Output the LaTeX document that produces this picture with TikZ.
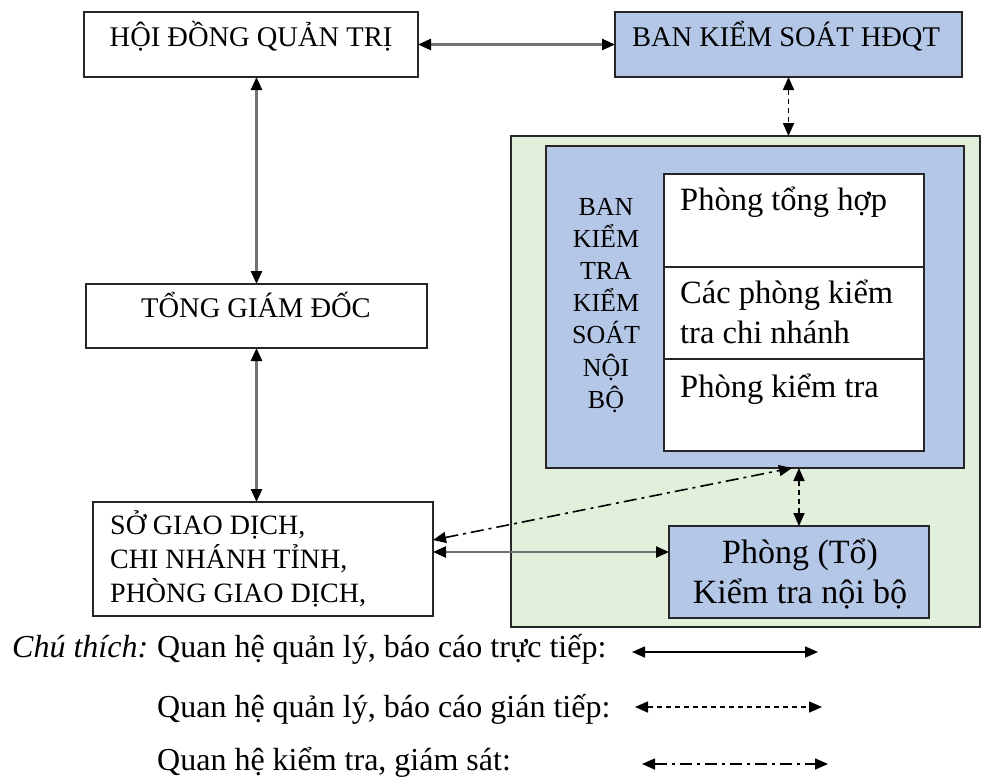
\documentclass[tikz,border=0pt]{standalone}
\usepackage{fontspec}
\setmainfont{Liberation Serif}
\usetikzlibrary{arrows.meta, calc, positioning}
\definecolor{bkblue}{HTML}{B4C7E7}
\definecolor{bkgreen}{HTML}{E2EFDA}

\begin{document}
\begin{tikzpicture}[x=1pt, y=-1pt,
  box/.style={draw=black!85, line width=1.4pt, anchor=north west, inner sep=0pt, outer sep=0pt},
  txt/.style={anchor=base, inner sep=0pt},
  ltxt/.style={anchor=base west, inner sep=0pt},
  tips/.style={{Triangle[length=13pt,width=11pt,color=black]}-{Triangle[length=13pt,width=11pt,color=black]}},
  conn/.style={tips, draw=black!55, line width=2.4pt},
  dconn/.style={tips, draw=black, line width=1.7pt, dash pattern=on 5pt off 4pt},
  ddconn/.style={tips, draw=black, line width=1.6pt, dash pattern=on 13pt off 5pt on 3pt off 5pt},
  lconn/.style={tips, draw=black, line width=1.6pt},
  fa/.style={font=\fontsize{28.5}{32}\selectfont},
  fv/.style={font=\fontsize{26}{30}\selectfont},
  fb/.style={font=\fontsize{28}{32}\selectfont},
  fc/.style={font=\fontsize{32.5}{36}\selectfont},
  fd/.style={font=\fontsize{34}{38}\selectfont},
  fe/.style={font=\fontsize{32}{36}\selectfont}
]
  \useasboundingbox (0,0) rectangle (985,780);

  % top level
  \node[box, minimum width=334pt, minimum height=65pt] (hdqt) at (84,12) {};
  \node[txt, fa] (hdqtt) at (251,46) {HỘI ĐỒNG QUẢN TRỊ};
  \node[box, fill=bkblue, minimum width=347pt, minimum height=65pt] (bks) at (615,12) {};
  \node[txt, fa] (bkst) at (786,46) {BAN KIỂM SOÁT HĐQT};

  \node[box, minimum width=341pt, minimum height=64pt] (tgd) at (86,284) {};
  \node[txt, fa] (tgdt) at (256,317) {TỔNG GIÁM ĐỐC};

  \node[box, minimum width=340pt, minimum height=114pt] (sgd) at (93,502) {};
  \node[ltxt, fb] (sgd1) at (110,534) {SỞ GIAO DỊCH,};
  \node[ltxt, fb] (sgd2) at (110,568) {CHI NHÁNH TỈNH,};
  \node[ltxt, fb] (sgd3) at (110,602) {PHÒNG GIAO DỊCH,};

  % internal control block
  \node[box, fill=bkgreen, minimum width=469pt, minimum height=491pt] (green) at (511,136) {};
  \node[box, fill=bkblue, minimum width=418pt, minimum height=322pt] (inner) at (546,146) {};
  \foreach \w [count=\i] in {BAN, KIỂM, TRA, KIỂM, SOÁT, NỘI, BỘ}
    \node[txt, fv] (ban\i) at (606,{215+32.2*(\i-1)}) {\w};

  \node[box, fill=white, minimum width=260pt, minimum height=93pt] (row1) at (664,174) {};
  \node[box, fill=white, minimum width=260pt, minimum height=92pt] (row2) at (664,267) {};
  \node[box, fill=white, minimum width=260pt, minimum height=92pt] (row3) at (664,359) {};
  \node[ltxt, fc] (row1t) at (680,210) {Phòng tổng hợp};
  \node[ltxt, fc] (row2t) at (680,303) {Các phòng kiểm};
  \node[ltxt, fc] (row2u) at (680,343) {tra chi nhánh};
  \node[ltxt, fc] (row3t) at (680,397) {Phòng kiểm tra};

  \node[box, fill=bkblue, minimum width=260pt, minimum height=92pt] (phong) at (669,526) {};
  \node[txt, fd] (phong1) at (800,563) {Phòng (Tổ)};
  \node[txt, fd] (phong2) at (800,603) {Kiểm tra nội bộ};

  % connectors
  \draw[conn] (hdqt.east) -- (bks.west);
  \draw[conn] (hdqt.south -| tgd.north) -- (tgd.north);
  \draw[conn] (tgd.south) -- (tgd.south |- sgd.north);
  \draw[conn] ([yshift=7pt]sgd.east) -- ([yshift=7pt]sgd.east -| phong.west);
  \draw[dconn] (bks.south) -- (bks.south |- green.north);
  \draw[dconn] (phong.north |- inner.south) -- (phong.north);
  \draw[ddconn] ([yshift=19pt]sgd.east) -- ([xshift=37pt]inner.south);

  % legend
  \node[ltxt, fe] (note) at (12,657) {\itshape Chú thích:};
  \node[ltxt, fe] (leg1) at (157,657) {Quan hệ quản lý, báo cáo trực tiếp:};
  \node[ltxt, fe] (leg2) at (157,717) {Quan hệ quản lý, báo cáo gián tiếp:};
  \node[ltxt, fe] (leg3) at (157,770) {Quan hệ kiểm tra, giám sát:};
  \coordinate (l1a) at (632,652);
  \coordinate (l1b) at (818,652);
  \coordinate (l2a) at (635,707);
  \coordinate (l2b) at (822,707);
  \coordinate (l3a) at (642,764);
  \coordinate (l3b) at (828,764);
  \draw[lconn] (l1a) -- (l1b);
  \draw[lconn, dash pattern=on 5pt off 4pt] (l2a) -- (l2b);
  \draw[lconn, dash pattern=on 12pt off 5pt on 3pt off 5pt] (l3a) -- (l3b);
\end{tikzpicture}
\end{document}
